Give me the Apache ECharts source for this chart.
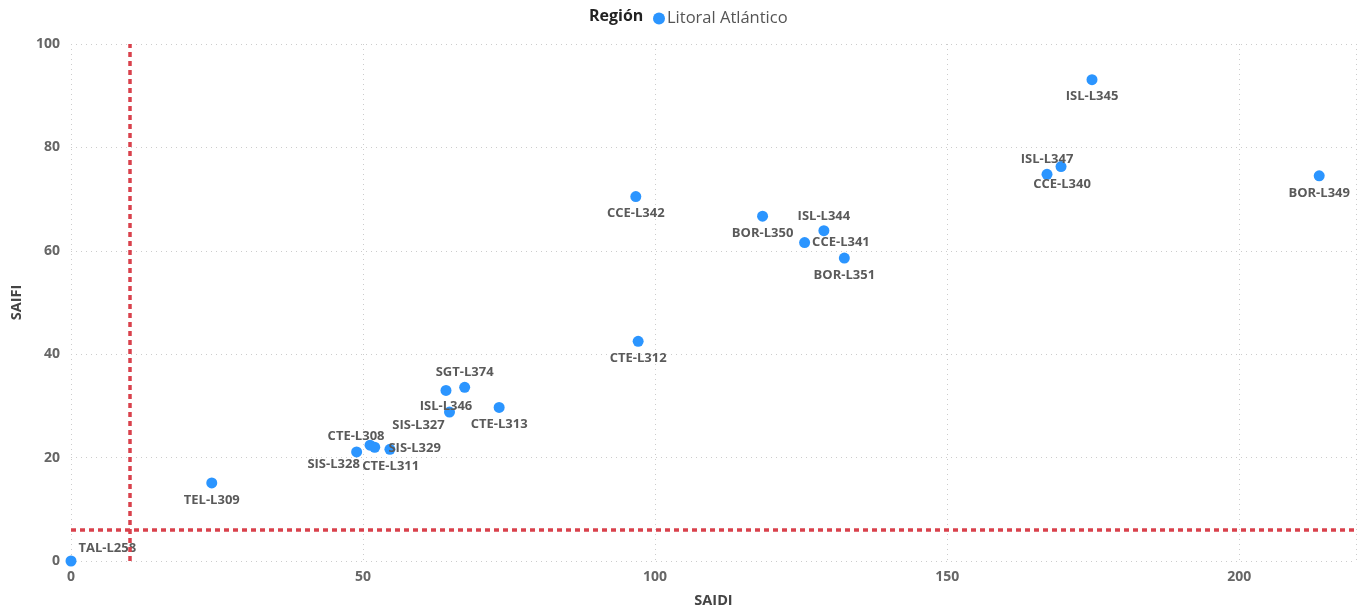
<!DOCTYPE html>
<html>
<head>
<meta charset="utf-8">
<script src="https://cdn.jsdelivr.net/npm/echarts@6/dist/echarts.min.js"></script>
<style>
html, body { margin: 0; padding: 0; background: #fff; }
#chart { width: 1367px; height: 613px; }
</style>
</head>
<body>
<div id="chart"></div>
<script>
// data
var names = ['TAL-L258', 'TEL-L309', 'SIS-L328', 'CTE-L308', 'CTE-L311', 'SIS-L329',
    'ISL-L346', 'SGT-L374', 'SIS-L327', 'CTE-L313', 'CTE-L312', 'CCE-L342',
    'BOR-L350', 'ISL-L344', 'CCE-L341', 'BOR-L351', 'ISL-L345', 'ISL-L347',
    'CCE-L340', 'BOR-L349'];
var saidi = [0, 24.1, 48.9, 51.2, 52.0, 54.6, 64.2, 67.4, 64.8, 73.3, 97.1, 96.7,
    118.4, 128.9, 125.6, 132.4, 174.8, 169.5, 167.1, 213.7];
var saifi = [0, 15.1, 21.1, 22.4, 22.0, 21.6, 33.0, 33.6, 28.8, 29.7, 42.5, 70.5,
    66.7, 63.9, 61.6, 58.6, 93.1, 76.3, 74.8, 74.5];
var xTicks = [0, 50, 100, 150, 200];
var yTicks = [0, 20, 40, 60, 80, 100];
var refSaidi = 10;
var refSaifi = 6.1;

// where each label sits around its point (default: below)
var labelPlace = {
    'TAL-L258': ['right', [-3, -13]],
    'SIS-L328': ['bottom', [-23, -5]],
    'CTE-L308': ['top', [-14, 8]],
    'CTE-L311': ['bottom', [16, 2]],
    'SIS-L329': ['right', [-12, -1]],
    'ISL-L346': ['bottom', [0, -1]],
    'SGT-L374': ['top', [0, 2]],
    'SIS-L327': ['bottom', [-31, -4]],
    'ISL-L344': ['top', [0, 3]],
    'CCE-L341': ['right', [-3, 0]],
    'ISL-L347': ['top', [-14, 10]],
    'CCE-L340': ['bottom', [15, -7]]
};

var points = [];
for (var i = 0; i < names.length; i++) {
    var p = { name: names[i], value: [saidi[i], saifi[i]] };
    var lp = labelPlace[names[i]];
    if (lp) {
        p.label = { position: lp[0], offset: lp[1] };
    }
    points.push(p);
}

var myChart = echarts.init(document.getElementById('chart'));
var fontFam = '"Open Sans", "Noto Sans", sans-serif';
var option = {
    animation: false,
    textStyle: { fontFamily: fontFam },
    title: {
        text: 'Región',
        left: 584,
        top: 3,
        textStyle: { fontSize: 16, fontWeight: 'bold', color: '#222', fontFamily: fontFam }
    },
    legend: {
        left: 648,
        top: 5,
        icon: 'circle',
        itemWidth: 12,
        itemHeight: 12,
        itemGap: 4,
        data: ['Litoral Atlántico'],
        textStyle: { fontSize: 16.5, color: '#555', padding: [0, 0, 0, -3], fontFamily: fontFam }
    },
    grid: { left: 71, right: 11, top: 44, bottom: 51, containLabel: false },
    xAxis: {
        type: 'value',
        min: 0,
        max: 220,
        interval: 50,
        name: 'SAIDI',
        nameLocation: 'middle',
        nameGap: 32,
        nameTextStyle: { fontSize: 14.5, fontWeight: 'bold', color: '#444' },
        axisLine: { show: false },
        axisTick: { show: false },
        axisLabel: { showMaxLabel: false, fontSize: 14, fontWeight: 'bold', color: '#666', margin: 9 },
        splitLine: { show: true, lineStyle: { type: [1, 4], color: '#ccc', width: 1 } }
    },
    yAxis: {
        type: 'value',
        min: 0,
        max: 100,
        interval: 20,
        name: 'SAIFI',
        nameLocation: 'middle',
        nameGap: 47,
        nameTextStyle: { fontSize: 14.5, fontWeight: 'bold', color: '#444' },
        axisLine: { show: false },
        axisTick: { show: false },
        axisLabel: { fontSize: 14, fontWeight: 'bold', color: '#666', margin: 11, padding: [3, 0, 0, 0] },
        splitLine: { show: true, lineStyle: { type: [1, 4], color: '#ccc', width: 1 } }
    },
    series: [
        {
            name: 'Litoral Atlántico',
            type: 'scatter',
            symbolSize: 11,
            clip: true,
            itemStyle: { color: '#2B95FF', opacity: 1 },
            label: {
                show: true,
                position: 'bottom',
                distance: 5,
                formatter: '{b}',
                fontSize: 13,
                fontWeight: 'bold',
                color: '#5a5a5a'
            },
            data: points,
            markLine: {
                silent: true,
                symbol: 'none',
                label: { show: false },
                lineStyle: { color: '#D9414C', type: [5, 4], width: 3.5, opacity: 1 },
                data: [
                    { xAxis: refSaidi },
                    { yAxis: refSaifi }
                ]
            },
            z: 3
        }
    ]
};
myChart.setOption(option);
</script>
</body>
</html>
